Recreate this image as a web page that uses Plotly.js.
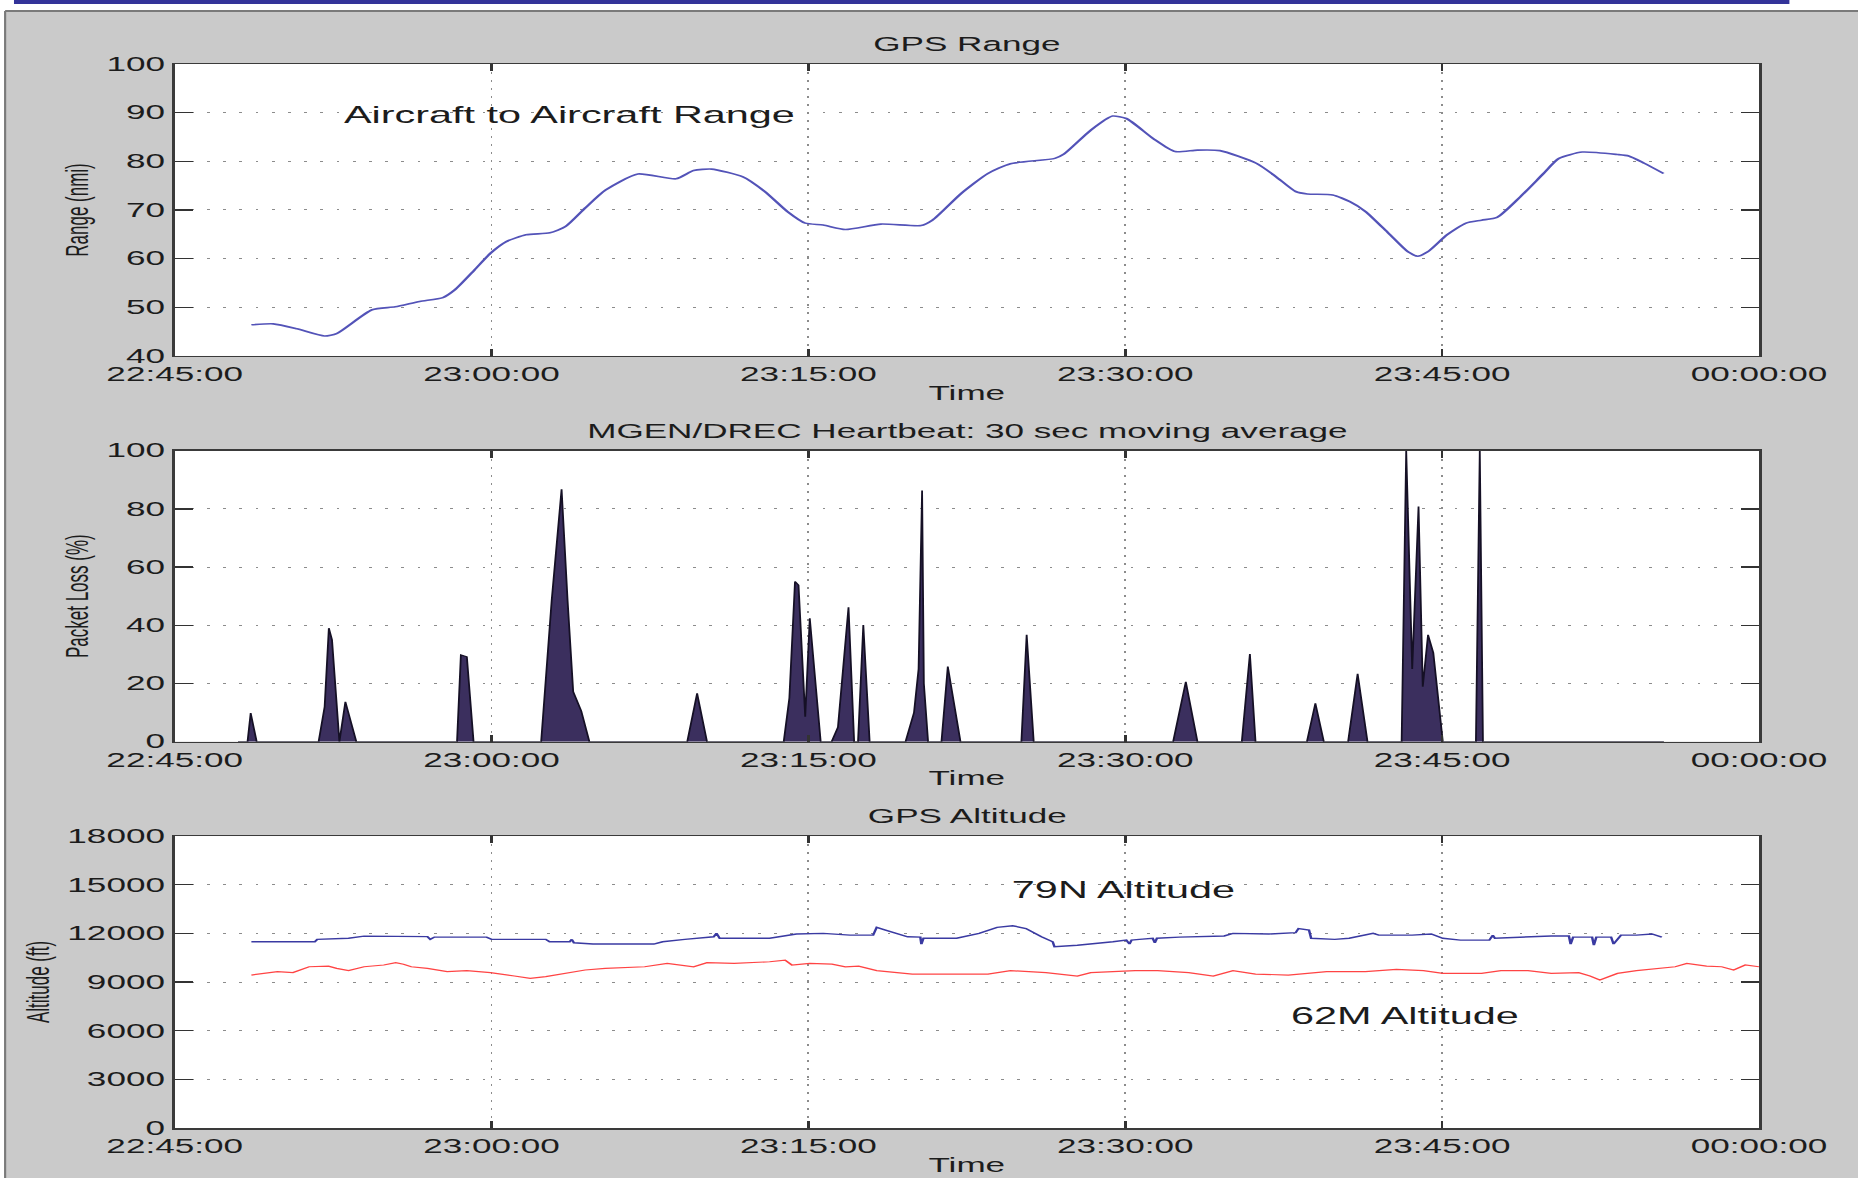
<!DOCTYPE html>
<html>
<head>
<meta charset="utf-8">
<script src="https://cdn.plot.ly/plotly-3.0.1.min.js"></script>
<style>
  html, body { margin: 0; padding: 0; background: #ffffff; overflow: hidden; }
  #chart { width: 1032px; height: 1178px; transform: scaleX(1.8004); transform-origin: 0 0; }
</style>
</head>
<body>
<div id="chart"></div>
<script>
// ---------- DATA ----------
const TICK_TIMES = ['22:45:00', '23:00:00', '23:15:00', '23:30:00', '23:45:00', '00:00:00'];

// GPS Range: aircraft to aircraft range (nmi)
const RANGE_TIME = ['22:48:38','22:49:40','22:50:47','22:52:06','22:52:40','22:54:21','22:55:27','22:56:36','22:57:42','22:58:16',
  '22:59:12','22:59:57','23:00:42','23:01:38','23:02:46','23:03:30','23:04:26','23:05:24','23:06:56','23:08:44',
  '23:09:34','23:10:25','23:11:54','23:12:56','23:14:00','23:14:51','23:15:42','23:16:45','23:18:26','23:20:20',
  '23:20:52','23:22:14','23:23:30','23:24:34','23:26:40','23:27:06','23:28:22','23:29:24','23:30:03','23:31:19',
  '23:32:22','23:33:25','23:34:29','23:36:12','23:37:09','23:38:04','23:38:37','23:39:49','23:40:38','23:41:22',
  '23:42:28','23:43:23','23:43:51','23:44:19','23:45:14','23:46:08','23:46:52','23:47:36','23:48:42','23:49:48',
  '23:50:32','23:51:38','23:53:18','23:53:50','23:54:34','23:55:29'];
const RANGE_NMI = [46.4,46.6,45.6,44.1,44.6,49.5,50.1,51.2,52.0,53.6,
  57.7,61.1,63.5,64.9,65.3,66.6,70.4,74.1,77.4,76.4,
  78.1,78.4,76.8,73.8,69.7,67.3,66.9,66.0,67.1,66.8,
  67.9,73.4,77.5,79.5,80.6,81.5,86.4,89.3,88.8,84.7,
  82.0,82.3,82.2,79.6,76.8,73.8,73.3,73.1,71.7,69.7,
  65.2,61.4,60.5,61.4,64.9,67.3,67.9,68.5,72.7,77.5,
  80.6,81.9,81.4,81.1,79.6,77.5];

// MGEN/DREC heartbeat packet loss (%), 30 s moving average
const LOSS_TIME = ['22:48:00','22:48:27','22:48:36','22:48:53','22:51:49','22:52:06','22:52:18','22:52:27','22:52:48','22:53:05',
  '22:53:36','22:58:22','22:58:33','22:58:50','22:59:09','23:02:21','23:02:51','23:03:19','23:03:36','23:03:52',
  '23:04:15','23:04:38','23:09:16','23:09:44','23:10:12','23:13:50','23:14:06','23:14:22','23:14:32','23:14:51',
  '23:15:04','23:15:35','23:16:06','23:16:24','23:16:54','23:17:10','23:17:21','23:17:36','23:17:54','23:19:36',
  '23:20:00','23:20:13','23:20:23','23:20:28','23:20:40','23:21:18','23:21:36','23:22:12','23:25:05','23:25:20',
  '23:25:40','23:32:16','23:32:52','23:33:25','23:35:31','23:35:54','23:36:10','23:38:36','23:39:00','23:39:24',
  '23:40:33','23:41:00','23:41:28','23:43:05','23:43:18','23:43:35','23:43:53','23:44:05','23:44:20','23:44:35',
  '23:45:02','23:46:36','23:46:47','23:46:56','23:55:30'];
const LOSS_PCT = [0,0,9.8,0,0,12,39,35,0,13.7,
  0,0,29.8,29.2,0,0,48.7,86.7,48.7,17.2,
  10.5,0,0,16.6,0,0,15,55,53.8,8.6,
  42.4,0,0,5,46.2,0,0,40.1,0,0,
  10,25,86.3,20,0,0,25.8,0,0,36.7,
  0,0,20.6,0,0,30.1,0,0,13.2,0,
  0,23.3,0,0,100,25,80.8,18.9,36.7,30.5,
  0,0,100,0,0];

// GPS altitude (ft): 79N
const ALT79N_TIME = ['22:48:38','22:51:38','22:51:45','22:53:14','22:53:58','22:56:58','22:57:06','22:57:18','22:59:46','23:00:00',
  '23:02:34','23:02:45','23:03:42','23:03:48','23:03:54','23:04:48','23:07:41','23:08:06','23:09:09','23:10:31',
  '23:10:39','23:10:48','23:13:10','23:14:26','23:15:42','23:16:58','23:18:04','23:18:14','23:18:39','23:19:42',
  '23:20:18','23:20:21','23:20:27','23:22:01','23:23:05','23:23:56','23:24:40','23:25:18','23:26:02','23:26:34',
  '23:26:39','23:27:00','23:27:44','23:29:25','23:30:03','23:30:12','23:30:18','23:30:40','23:31:18','23:31:24',
  '23:31:30','23:32:34','23:34:41','23:35:06','23:36:48','23:38:04','23:38:12','23:38:42','23:38:48','23:39:55',
  '23:40:36','23:41:44','23:42:00','23:43:35','23:44:29','23:45:02','23:45:52','23:47:14','23:47:24','23:47:30',
  '23:48:43','23:50:10','23:51:00','23:51:05','23:51:12','23:52:06','23:52:11','23:52:18','23:53:00','23:53:07',
  '23:53:28','23:54:12','23:54:56','23:55:24'];
const ALT79N_FT = [11480,11480,11630,11700,11830,11800,11630,11770,11770,11630,
  11630,11480,11480,11630,11420,11340,11340,11480,11630,11790,
  12000,11700,11700,11960,12000,11890,11890,12370,12200,11790,
  11770,11340,11700,11700,12000,12370,12470,12300,11790,11480,
  11170,11200,11270,11480,11580,11340,11580,11630,11700,11420,
  11700,11770,11840,12000,11960,12040,12300,12200,11700,11630,
  11700,12000,11890,11890,11960,11700,11580,11580,11890,11700,
  11770,11840,11840,11340,11770,11770,11270,11770,11770,11340,
  11890,11890,11960,11770];

// GPS altitude (ft): 62M
const ALT62M_TIME = ['22:48:38','22:49:52','22:50:36','22:51:22','22:52:17','22:52:40','22:53:14','22:53:58','22:54:54','22:55:28',
  '22:55:50','22:56:12','22:56:58','22:57:54','22:58:50','22:59:57','23:01:05','23:01:50','23:02:34','23:03:19',
  '23:04:26','23:05:23','23:07:15','23:08:19','23:09:34','23:10:12','23:11:29','23:13:10','23:13:54','23:14:13',
  '23:15:04','23:16:07','23:16:45','23:17:23','23:18:14','23:19:55','23:21:36','23:23:30','23:24:34','23:26:15',
  '23:27:44','23:28:22','23:30:28','23:31:32','23:33:00','23:34:10','23:35:06','23:36:10','23:37:43','23:39:32',
  '23:41:22','23:42:50','23:44:07','23:45:02','23:46:52','23:47:47','23:49:04','23:50:10','23:51:28','23:52:00',
  '23:52:28','23:53:18','23:54:12','23:55:18','23:56:02','23:56:35','23:57:31','23:58:14','23:58:48','23:59:21',
  '00:00:00'];
const ALT62M_FT = [9430,9640,9580,9940,9980,9840,9700,9940,10050,10190,
  10100,9940,9840,9640,9700,9580,9370,9230,9330,9490,
  9740,9840,9940,10150,9940,10190,10150,10250,10350,10050,
  10150,10100,9940,9980,9700,9490,9490,9490,9700,9580,
  9370,9580,9700,9700,9580,9370,9700,9490,9430,9640,
  9640,9780,9700,9530,9530,9700,9700,9530,9580,9370,
  9120,9530,9700,9840,9940,10150,9980,9940,9740,10050,
  9940];

// ---------- BUILD ----------
const toDate = t => (t.startsWith('00:') ? '2024-01-02 ' : '2024-01-01 ') + t;

const FONT = 'Liberation Sans, Arial, Helvetica, sans-serif';
const TXT = '#1c1c1c';
const DOMAINS = [[0.7256, 1.0], [0.3631, 0.6366], [0.0, 0.2744]];

function xAxis(anchor) {
  return {
    type: 'date', anchor: anchor, domain: [0, 1],
    range: [toDate('22:45:00'), toDate('00:00:00')],
    tickmode: 'array', tickvals: TICK_TIMES.map(toDate), ticktext: TICK_TIMES,
    ticks: 'inside', ticklen: 7, tickwidth: 1.5, tickcolor: '#333',
    showline: true, linecolor: '#3a3a3a', linewidth: 1.5, mirror: 'ticks',
    showgrid: true, gridcolor: '#8c8c8c', gridwidth: 1, griddash: '2px,6px',
    tickfont: { family: FONT, size: 19.5, color: TXT },
    title: { text: 'Time', font: { family: FONT, size: 19.5, color: TXT }, standoff: 2 },
    fixedrange: true
  };
}
function yAxis(anchor, domain, range, dtick, title) {
  return {
    anchor: anchor, domain: domain, range: range, dtick: dtick, tickformat: 'd',
    ticks: 'inside', ticklen: 10, tickwidth: 1.5, tickcolor: '#333',
    showline: true, linecolor: '#3a3a3a', linewidth: 1.5, mirror: 'ticks',
    showgrid: true, gridcolor: '#8c8c8c', gridwidth: 1, griddash: '1.5px,7.5px',
    zeroline: false,
    tickfont: { family: FONT, size: 19.5, color: TXT },
    title: { text: title, font: { family: FONT, size: 17, color: TXT }, standoff: 5 },
    fixedrange: true
  };
}

const traces = [
  { x: RANGE_TIME.map(toDate), y: RANGE_NMI, xaxis: 'x', yaxis: 'y', type: 'scatter', mode: 'lines',
    line: { color: '#5353b8', width: 1.6, shape: 'spline', smoothing: 0.6 }, hoverinfo: 'skip' },
  { x: LOSS_TIME.map(toDate), y: LOSS_PCT, xaxis: 'x2', yaxis: 'y2', type: 'scatter', mode: 'lines',
    fill: 'tozeroy', fillcolor: '#3b2f5e', line: { color: '#151025', width: 1 }, hoverinfo: 'skip' },
  { x: ALT79N_TIME.map(toDate), y: ALT79N_FT, xaxis: 'x3', yaxis: 'y3', type: 'scatter', mode: 'lines',
    line: { color: '#3a3aa2', width: 1.4 }, hoverinfo: 'skip' },
  { x: ALT62M_TIME.map(toDate), y: ALT62M_FT, xaxis: 'x3', yaxis: 'y3', type: 'scatter', mode: 'lines',
    line: { color: '#ff4444', width: 1.2 }, hoverinfo: 'skip' }
];

const PANEL_TITLES = ['GPS Range', 'MGEN/DREC Heartbeat: 30 sec moving average', 'GPS Altitude'];
const annotations = PANEL_TITLES.map((t, i) => ({
  text: t, xref: 'paper', yref: 'paper', x: 0.5, y: DOMAINS[i][1], xanchor: 'center', yanchor: 'middle',
  yshift: 20, showarrow: false, font: { family: FONT, size: 19.5, color: TXT }
}));
annotations.push(
  { text: 'Aircraft to Aircraft Range', xref: 'x', yref: 'y', x: toDate('22:52:48'), y: 89.5,
    xanchor: 'left', yanchor: 'middle', showarrow: false, font: { family: FONT, size: 23, color: TXT } },
  { text: '79N Altitude', xref: 'x3', yref: 'y3', x: toDate('23:24:30'), y: 14700,
    xanchor: 'left', yanchor: 'middle', showarrow: false, font: { family: FONT, size: 23, color: TXT } },
  { text: '62M Altitude', xref: 'x3', yref: 'y3', x: toDate('23:37:38'), y: 6900,
    xanchor: 'left', yanchor: 'middle', showarrow: false, font: { family: FONT, size: 23, color: TXT } }
);

// frame decoration: white margin strip, blue banner and figure border
const shapes = [
  { type: 'rect', xref: 'paper', yref: 'paper', x0: -0.3, x1: 1.3, y0: 1.0498, y1: 1.3, fillcolor: '#ffffff', line: { width: 0 }, layer: 'below' },
  { type: 'rect', xref: 'paper', yref: 'paper', x0: -0.3, x1: -0.107, y0: -0.3, y1: 1.3, fillcolor: '#ffffff', line: { width: 0 }, layer: 'below' },
  { type: 'rect', xref: 'paper', yref: 'paper', x0: -0.1014, x1: 1.0192, y0: 1.0564, y1: 1.3, fillcolor: '#333399', line: { width: 0 }, layer: 'below' },
  { type: 'line', xref: 'paper', yref: 'paper', x0: -0.107, x1: 1.3, y0: 1.0498, y1: 1.0498, line: { color: '#7a7a7a', width: 2 }, layer: 'below' },
  { type: 'line', xref: 'paper', yref: 'paper', x0: -0.107, x1: -0.107, y0: -0.3, y1: 1.0498, line: { color: '#7a7a7a', width: 1.2 }, layer: 'below' }
];

const layout = {
  width: 1032, height: 1178,
  margin: { l: 97, r: 55, t: 64, b: 50, pad: 0 },
  paper_bgcolor: '#cacaca', plot_bgcolor: '#ffffff',
  showlegend: false,
  font: { family: FONT, color: TXT },
  xaxis: xAxis('y'), xaxis2: xAxis('y2'), xaxis3: xAxis('y3'),
  yaxis: yAxis('x', DOMAINS[0], [40, 100], 10, 'Range (nmi)'),
  yaxis2: yAxis('x2', DOMAINS[1], [0, 100], 20, 'Packet Loss (%)'),
  yaxis3: yAxis('x3', DOMAINS[2], [0, 18000], 3000, 'Altitude (ft)'),
  annotations: annotations,
  shapes: shapes
};

Plotly.newPlot('chart', traces, layout, { displayModeBar: false, staticPlot: true });
</script>
</body>
</html>
